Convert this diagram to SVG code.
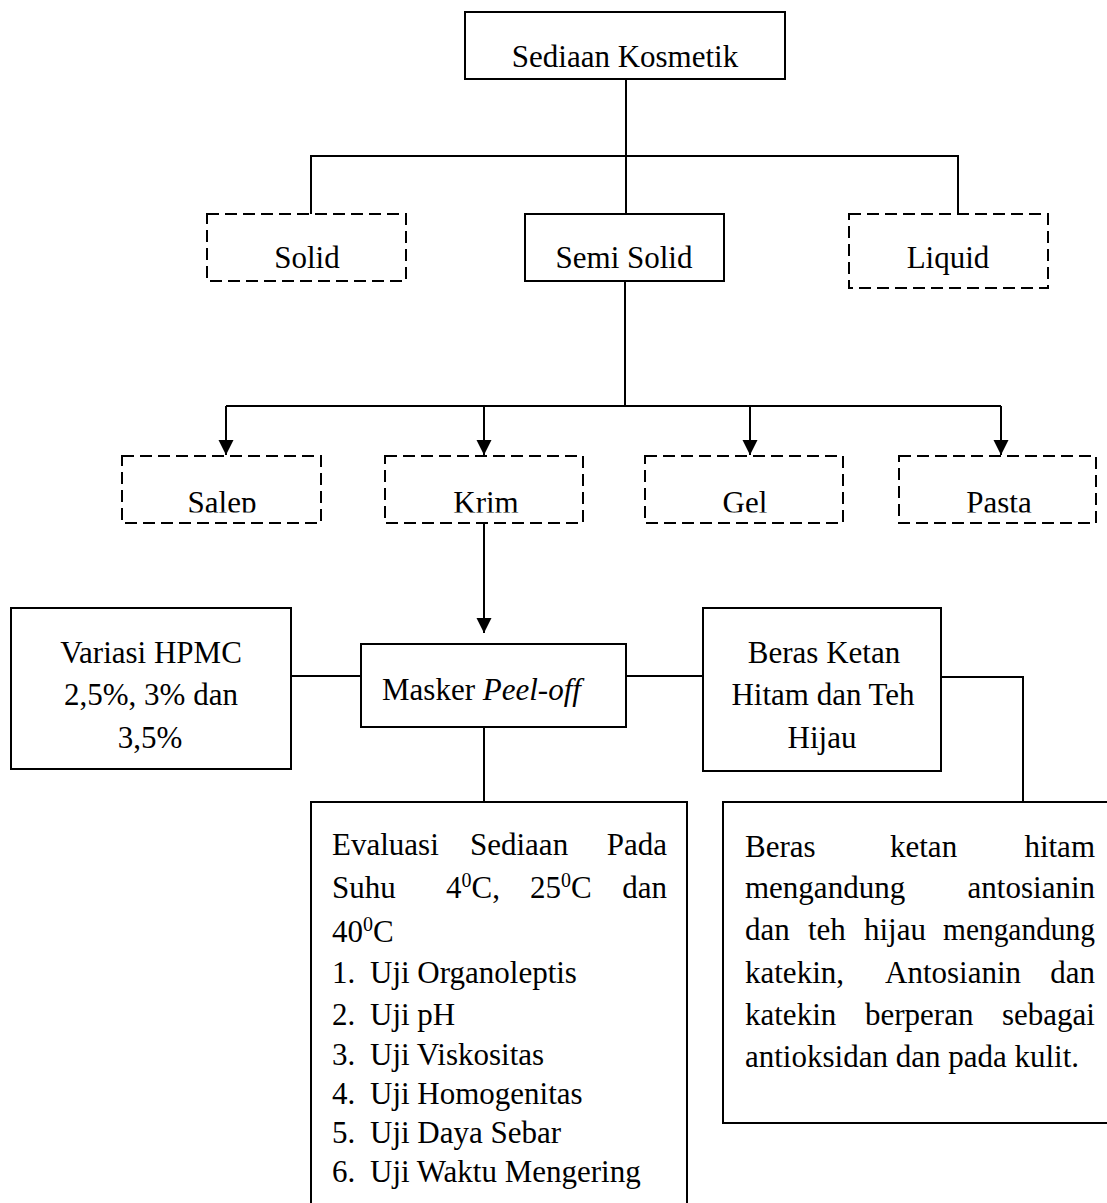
<svg xmlns="http://www.w3.org/2000/svg" width="1107" height="1203" viewBox="0 0 1107 1203">
<style>
text{font-family:"Liberation Serif","Times New Roman",serif;font-size:31px;fill:#000}
.box{fill:#fff;stroke:#000;stroke-width:2}
.dash{fill:#fff;stroke:#000;stroke-width:2;stroke-dasharray:12 6}
.line{fill:none;stroke:#000;stroke-width:2}
.c{text-anchor:middle}
.e{text-anchor:end}
.sup{font-size:20px}
</style>
<defs>
<marker id="arr" markerWidth="16" markerHeight="16" refX="15" refY="7.5" orient="auto" markerUnits="userSpaceOnUse">
<path d="M0,0 L15,7.5 L0,15 Z" fill="#000"/>
</marker>
<clipPath id="cut"><rect x="0" y="440" width="1107" height="72.5"/></clipPath>
</defs>
<rect width="1107" height="1203" fill="#fff"/>
<g id="connectors">
<path class="line" d="M626,79 V214"/>
<path class="line" d="M311,214 V156 H958 V214"/>
<path class="line" d="M625,281 V406"/>
<path class="line" d="M226,406 H1001"/>
<path class="line" d="M226,406 V455" marker-end="url(#arr)"/>
<path class="line" d="M484,406 V455" marker-end="url(#arr)"/>
<path class="line" d="M750,406 V455" marker-end="url(#arr)"/>
<path class="line" d="M1001,406 V455" marker-end="url(#arr)"/>
<path class="line" d="M484,523 V633" marker-end="url(#arr)"/>
<path class="line" d="M291,676 H361"/>
<path class="line" d="M626,676 H703"/>
<path class="line" d="M941,677 H1023 V802"/>
<path class="line" d="M484,727 V802"/>
</g>
<g id="sediaan">
<rect class="box" x="465" y="12" width="320" height="67"/>
<text class="c" x="625" y="67">Sediaan Kosmetik</text>
</g>
<g id="solid">
<rect class="dash" x="207" y="214" width="199" height="67"/>
<text class="c" x="307" y="268">Solid</text>
</g>
<g id="semisolid">
<rect class="box" x="525" y="214" width="199" height="67"/>
<text class="c" x="624" y="268">Semi Solid</text>
</g>
<g id="liquid">
<rect class="dash" x="849" y="214" width="199" height="74"/>
<text class="c" x="948" y="268">Liquid</text>
</g>
<g id="salep">
<rect class="dash" x="122" y="456" width="199" height="67"/>
<text class="c" x="222" y="513" clip-path="url(#cut)">Salep</text>
</g>
<g id="krim">
<rect class="dash" x="385" y="456" width="198" height="67"/>
<text class="c" x="486" y="513" clip-path="url(#cut)">Krim</text>
</g>
<g id="gel">
<rect class="dash" x="645" y="456" width="198" height="67"/>
<text class="c" x="745" y="513" clip-path="url(#cut)">Gel</text>
</g>
<g id="pasta">
<rect class="dash" x="899" y="456" width="197" height="67"/>
<text class="c" x="999" y="513" clip-path="url(#cut)">Pasta</text>
</g>
<g id="variasi">
<rect class="box" x="11" y="608" width="280" height="161"/>
<text class="c" x="151" y="663">Variasi  HPMC</text>
<text class="c" x="151" y="705">2,5%, 3%  dan</text>
<text class="c" x="150" y="748">3,5%</text>
</g>
<g id="masker">
<rect class="box" x="361" y="644" width="265" height="83"/>
<text x="382" y="700">Masker <tspan font-style="italic">Peel-off</tspan></text>
</g>
<g id="beras">
<rect class="box" x="703" y="608" width="238" height="163"/>
<text class="c" x="824" y="663">Beras Ketan</text>
<text class="c" x="823" y="705">Hitam  dan Teh</text>
<text class="c" x="822" y="748">Hijau</text>
</g>
<g id="evaluasi">
<path class="box" d="M311,1204 V802 H687 V1204"/>
<text x="332" y="855">Evaluasi</text>
<text x="470" y="855">Sediaan</text>
<text class="e" x="667" y="855">Pada</text>
<text x="332" y="898">Suhu</text>
<text x="446" y="898">4<tspan class="sup" dy="-11">0</tspan><tspan dy="11">C,</tspan></text>
<text x="530" y="898">25<tspan class="sup" dy="-11">0</tspan><tspan dy="11">C</tspan></text>
<text class="e" x="667" y="898">dan</text>
<text x="332" y="942">40<tspan class="sup" dy="-11">0</tspan><tspan dy="11">C</tspan></text>
<text x="332" y="983">1.</text><text x="370" y="983">Uji Organoleptis</text>
<text x="332" y="1025">2.</text><text x="370" y="1025">Uji pH</text>
<text x="332" y="1065">3.</text><text x="370" y="1065">Uji Viskositas</text>
<text x="332" y="1104">4.</text><text x="370" y="1104">Uji Homogenitas</text>
<text x="332" y="1143">5.</text><text x="370" y="1143">Uji Daya Sebar</text>
<text x="332" y="1182">6.</text><text x="370" y="1182">Uji Waktu Mengering</text>
</g>
<g id="keterangan">
<path class="box" d="M1108,802 H723 V1123 H1108"/>
<text x="745" y="857">Beras</text>
<text x="890" y="857">ketan</text>
<text class="e" x="1095" y="857">hitam</text>
<text x="745" y="898">mengandung</text>
<text class="e" x="1095" y="898">antosianin</text>
<text x="745" y="940">dan</text>
<text x="808" y="940">teh</text>
<text x="864" y="940">hijau</text>
<text x="943" y="940" textLength="152" lengthAdjust="spacingAndGlyphs">mengandung</text>
<text x="745" y="983">katekin,</text>
<text x="885" y="983">Antosianin</text>
<text class="e" x="1095" y="983">dan</text>
<text x="745" y="1025">katekin</text>
<text x="865" y="1025">berperan</text>
<text class="e" x="1095" y="1025">sebagai</text>
<text x="745" y="1067">antioksidan  dan pada kulit.</text>
</g>
</svg>
